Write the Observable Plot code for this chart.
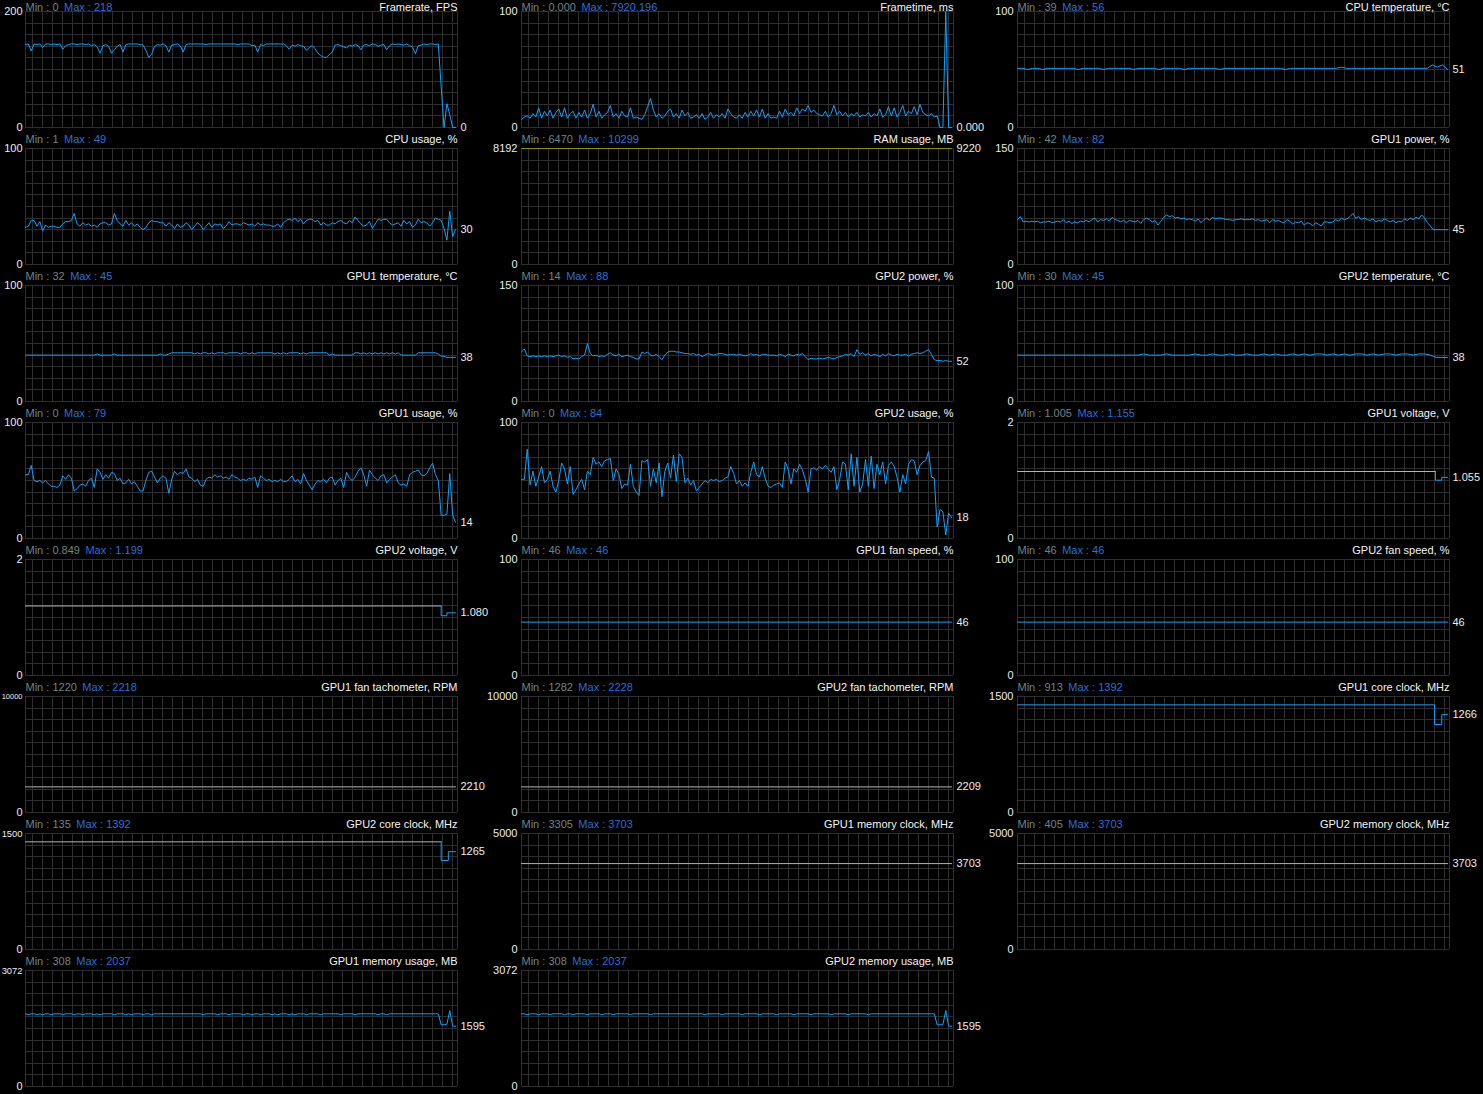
<!DOCTYPE html>
<html><head><meta charset="utf-8">
<script src="https://cdn.jsdelivr.net/npm/d3@7"></script>
<script src="https://cdn.jsdelivr.net/npm/@observablehq/plot@0.6"></script>
<style>
html,body{margin:0;padding:0;background:#000;}
#root{position:relative;width:1483px;height:1094px;overflow:hidden;background:#000;}
.panel{position:absolute;width:496px;height:146px;}
.panel svg{max-width:none !important;}
</style></head><body><div id="root"></div>
<script>
// ---------- DATA (sample index 0..150, equally spaced in time) ----------
const framerate = [143,144,132,144,143,144,138,144,144,143,
 144,143,144,135,141,143,144,144,143,144,
 144,143,144,141,143,139,128,141,143,140,
 128,134,140,143,130,143,144,144,144,144,
 143,142,133,121,126,140,143,142,144,141,
 130,142,143,144,141,130,143,144,144,144,
 144,144,144,143,144,144,144,144,144,144,
 144,144,144,144,143,144,144,144,144,141,
 142,130,143,141,144,144,144,144,144,144,
 144,141,135,142,140,143,141,140,133,138,
 141,136,128,124,121,121,126,130,142,143,
 141,139,137,142,140,143,141,134,142,143,
 141,144,143,140,142,143,134,141,144,143,
 144,143,142,144,141,139,127,141,142,144,
 143,144,144,143,144,71,0,41,22,0,
 0];
const frametime = [7,9,10,8,12,9,17,8,14,10,
 15,8,13,16,9,17,8,12,14,8,
 13,9,15,8,12,20,9,14,8,11,
 13,19,9,12,8,14,10,9,17,8,
 9,8,7,11,18,25,15,9,12,8,
 10,14,16,9,12,8,15,10,13,8,
 9,11,8,12,7,9,13,8,11,9,
 12,8,16,12,9,8,11,8,13,9,
 14,10,15,9,16,8,12,8,9,8,
 14,9,16,11,13,10,17,12,16,14,
 19,13,15,12,11,10,14,9,12,19,
 11,14,10,13,9,12,10,13,9,11,
 10,13,9,12,10,16,9,11,18,10,
 17,9,13,19,10,14,12,18,11,20,
 13,11,10,12,9,10,0,0,100,0,
 0];
const cpuTemperature = [51,51,50,51,51,50,51,51,51,51, 51,51,50,51,51,51,51,50,51,51,
 51,51,51,50,51,51,51,51,50,51, 51,51,51,50,51,51,51,51,51,51,
 50,51,51,51,51,51,51,51,51,51, 51,51,51,50,51,51,51,51,51,51,
 51,51,51,51,52,51,51,51,51,51, 51,51,51,51,51,51,51,51,51,51,
 51,51,54,52,54,50];
const cpuUsage = [32,33,38,38,33,37,29,34,32,33,
 33,32,32,35,37,37,38,44,35,33,
 36,34,35,33,34,32,35,36,36,34,
 35,44,38,35,33,38,34,36,33,35,
 32,30,32,36,38,37,37,36,36,33,
 36,34,31,35,32,33,36,34,30,33,
 36,34,30,33,36,32,35,34,35,31,
 33,37,34,35,35,34,36,35,34,35,
 33,36,34,35,34,34,33,33,35,32,
 36,38,39,38,40,37,39,35,38,39,
 39,37,38,34,36,34,34,36,35,37,
 38,36,35,38,36,41,38,35,33,34,
 37,31,35,39,38,39,39,36,34,35,
 36,33,38,35,37,32,34,39,36,37,
 36,33,36,40,39,38,31,21,46,24,
 30];
const ramUsage = [9220, 9220];
const gpu1Power = [58,62,55,56,55,56,55,56,54,55,
 55,56,54,55,56,55,58,54,56,53,
 55,54,56,55,57,55,58,60,55,58,
 57,59,56,61,58,57,55,57,54,57,
 56,55,57,53,58,60,58,55,57,51,
 56,61,64,62,63,60,61,59,60,58,
 59,58,56,59,54,58,60,57,61,59,
 60,60,59,58,58,57,58,58,59,58,
 58,58,59,57,58,56,57,58,54,58,
 56,57,55,54,58,56,52,55,54,56,
 51,54,53,50,54,52,50,55,55,54,
 55,58,56,60,58,59,62,66,60,62,
 58,60,58,57,59,55,57,56,59,57,
 55,57,54,56,55,59,57,60,58,61,
 59,64,60,54,50,45,45,45,45,45,
 45];
const gpu1Temperature = [40,40,40,40,40,40,40,40,40,40,
 40,40,40,40,40,40,40,40,40,40,
 40,40,40,40,40,41,40,40,40,40,
 40,41,40,40,40,40,40,40,40,40,
 40,40,40,40,40,40,40,41,40,40,
 41,42,42,42,42,42,42,42,42,41,
 42,41,42,42,41,42,41,42,42,42,
 41,42,42,42,42,41,42,42,41,42,
 41,42,42,42,42,42,42,41,42,41,
 42,41,42,42,42,42,41,42,41,42,
 42,42,42,42,42,42,40,41,40,40,
 40,40,40,40,40,42,42,41,42,41,
 42,41,42,41,42,41,42,41,42,41,
 42,40,40,40,40,40,40,42,42,42,
 42,42,42,42,41,39,39,38,38,38,
 38];
const gpu2Power = [64,68,59,58,59,58,59,58,59,58,
 59,58,59,60,58,59,57,58,55,56,
 55,58,60,75,62,59,60,58,59,58,
 61,63,60,59,61,58,59,60,58,57,
 55,55,64,62,64,60,59,61,58,54,
 60,64,65,65,64,64,63,62,62,61,
 62,60,61,58,60,62,61,60,61,62,
 62,61,60,61,61,60,61,60,59,60,
 62,60,61,59,61,61,60,60,60,59,
 61,60,58,61,60,59,61,60,62,58,
 54,56,55,55,56,55,56,57,56,55,
 57,58,59,61,60,62,58,67,61,63,
 60,62,59,61,60,58,61,59,62,60,
 59,61,60,60,61,59,61,62,63,62,
 63,65,67,61,54,53,53,52,53,52,
 52];
const gpu2Temperature = [40,40,40,40,40,40,40,40,40,40, 40,40,40,40,40,40,40,40,40,40,
 40,40,41,40,40,40,41,40,40,40, 40,41,40,40,41,40,40,41,40,40,
 41,40,40,41,40,41,40,40,41,40, 41,40,41,41,40,41,40,41,40,41,
 41,40,41,40,41,41,40,41,41,40, 41,41,40,38,38,38];
const gpu1Usage = [55,55,63,50,49,50,48,50,47,45,
 45,44,46,54,51,55,52,41,43,46,
 47,45,50,52,44,60,57,51,55,52,
 57,56,50,52,47,48,51,47,49,45,
 41,41,50,57,58,53,48,52,54,52,
 39,51,58,55,57,56,60,53,52,49,
 51,46,45,51,53,52,55,53,54,52,
 53,51,55,53,52,50,51,50,52,51,
 53,44,54,52,50,51,49,50,49,51,
 49,49,51,54,49,51,47,56,50,46,
 42,47,50,49,51,48,52,53,46,50,
 52,44,57,52,50,53,58,61,55,45,
 59,55,52,50,54,55,48,51,53,55,
 48,46,47,45,55,57,58,59,55,54,
 56,61,65,55,50,20,20,21,56,20,
 14];
const gpu2Usage = [51,51,77,46,58,45,53,62,48,51,
 58,45,40,50,65,60,47,62,38,42,
 47,51,42,58,55,70,64,66,62,67,
 68,69,50,60,55,43,47,46,64,45,
 40,37,67,66,68,45,60,48,65,36,
 58,65,52,72,49,73,70,48,52,46,
 50,41,44,47,50,48,51,50,51,49,
 50,52,53,62,56,47,50,45,48,45,
 57,66,55,53,62,52,45,44,46,47,
 48,44,66,60,47,60,57,64,59,51,
 40,60,61,59,62,60,63,60,57,62,
 42,51,66,64,42,73,45,70,40,47,
 68,45,71,43,64,55,66,47,63,66,
 62,53,40,55,47,64,68,67,55,63,
 66,67,75,53,52,10,25,23,3,22,
 18];
// step-like series: breakpoints (sample index, value)
const gpu1VoltageT = [0, 145.8, 145.8, 148, 148, 150];
const gpu1VoltageV = [1.155, 1.155, 1.005, 1.005, 1.055, 1.055];
const gpu2VoltageT = [0, 145, 145, 147, 147, 150];
const gpu2VoltageV = [1.199, 1.199, 1.03, 1.03, 1.08, 1.08];
const gpu1FanSpeed = [46, 46];
const gpu2FanSpeed = [46, 46];
const gpu1FanTach = [2210, 2210];
const gpu2FanTach = [2209, 2209];
const gpu1CoreClockT = [0, 145.5, 145.5, 148, 148, 150];
const gpu1CoreClockV = [1392, 1392, 1138, 1138, 1266, 1266];
const gpu2CoreClockT = [0, 145, 145, 147.5, 147.5, 150];
const gpu2CoreClockV = [1392, 1392, 1151, 1151, 1265, 1265];
const gpu1MemClock = [3703, 3703];
const gpu2MemClock = [3703, 3703];
const gpu1MemUsage = [1925,1900,1925,1925,1900,1925,1900,1925,1925,1900,
 1925,1925,1925,1900,1925,1925,1925,1900,1925,1925,
 1900,1925,1925,1925,1900,1925,1900,1925,1925,1925,
 1925,1900,1925,1925,1925,1900,1925,1900,1925,1925,
 1925,1900,1925,1925,1900,1925,1925,1925,1925,1925,
 1925,1925,1925,1925,1925,1925,1925,1925,1925,1925,
 1925,1925,1900,1925,1925,1925,1925,1900,1925,1925,
 1925,1900,1925,1925,1925,1925,1900,1925,1925,1900,
 1925,1925,1900,1925,1925,1925,1900,1925,1900,1925,
 1925,1925,1900,1925,1900,1925,1925,1925,1900,1925,
 1925,1925,1925,1900,1925,1925,1925,1925,1925,1925,
 1900,1925,1925,1925,1925,1900,1925,1925,1925,1925,
 1925,1925,1925,1900,1925,1925,1900,1925,1925,1925,
 1925,1925,1925,1925,1925,1925,1925,1925,1925,1925,
 1925,1925,1925,1925,1925,1634,1634,1650,2013,1600,
 1595];
const gpu2MemUsage = [1925,1925,1900,1925,1925,1925,1900,1925,1925,1925,
 1900,1925,1925,1925,1925,1900,1925,1925,1900,1925,
 1925,1925,1925,1900,1925,1925,1925,1925,1900,1925,
 1925,1925,1900,1925,1925,1925,1925,1925,1900,1925,
 1925,1925,1925,1925,1925,1900,1925,1925,1925,1925,
 1925,1925,1925,1925,1925,1925,1925,1925,1925,1925,
 1925,1925,1925,1925,1900,1925,1925,1925,1925,1925,
 1900,1925,1925,1925,1925,1925,1925,1900,1925,1925,
 1925,1925,1925,1900,1925,1925,1925,1925,1925,1900,
 1925,1925,1925,1925,1925,1900,1925,1925,1925,1925,
 1925,1900,1925,1925,1925,1925,1925,1925,1900,1925,
 1925,1925,1925,1925,1900,1925,1925,1925,1925,1925,
 1925,1900,1925,1925,1925,1925,1925,1925,1925,1925,
 1925,1925,1925,1925,1925,1925,1925,1925,1925,1925,
 1925,1925,1925,1925,1925,1634,1634,1640,2013,1600,
 1595];

// panel texts
const titles = ["Framerate, FPS","Frametime, ms","CPU temperature, °C",
 "CPU usage, %","RAM usage, MB","GPU1 power, %",
 "GPU1 temperature, °C","GPU2 power, %","GPU2 temperature, °C",
 "GPU1 usage, %","GPU2 usage, %","GPU1 voltage, V",
 "GPU2 voltage, V","GPU1 fan speed, %","GPU2 fan speed, %",
 "GPU1 fan tachometer, RPM","GPU2 fan tachometer, RPM","GPU1 core clock, MHz",
 "GPU2 core clock, MHz","GPU1 memory clock, MHz","GPU2 memory clock, MHz",
 "GPU1 memory usage, MB","GPU2 memory usage, MB"];
const minLabels = ["0","0.000","39","1","6470","42","32","14","30","0","0","1.005",
 "0.849","46","46","1220","1282","913","135","3305","405","308","308"];
const maxLabels = ["218","7920.196","56","49","10299","82","45","88","45","79","84","1.155",
 "1.199","46","46","2218","2228","1392","1392","3703","3703","2037","2037"];
const currentLabels = ["0","0.000","51","30","9220","45","38","52","38","14","18","1.055",
 "1.080","46","46","2210","2209","1266","1265","3703","3703","1595","1595"];
const axisMax = [200,100,100, 100,8192,150, 100,150,100, 100,100,2, 2,100,100,
 10000,10000,1500, 1500,5000,5000, 3072,3072];

// ---------- STYLE ----------
const BLUE = "#14a0ff", GRAY = "#b4b4b4", OLIVE = "#8a8a12", GRID = "#2e2e2e";
const MINC = "#6e8484", MAXC = "#2a6fd6", TXT = "#ececec";
const FONT = "'Liberation Sans', Arial, sans-serif";

const fromValues = vals => vals.map((v, i) => ({t: i * 150 / (vals.length - 1), v}));
const fromSteps = (T, V) => T.map((t, i) => ({t, v: V[i]}));

function split(rows, k) { return [[rows.slice(0, k + 1), GRAY], [rows.slice(k), BLUE]]; }
const seriesList = [
  [[fromValues(framerate), BLUE]],
  [[fromValues(frametime), BLUE]],
  [[fromValues(cpuTemperature), BLUE]],
  [[fromValues(cpuUsage), BLUE]],
  [[fromValues(ramUsage), OLIVE]],
  [[fromValues(gpu1Power), BLUE]],
  [[fromValues(gpu1Temperature), BLUE]],
  [[fromValues(gpu2Power), BLUE]],
  [[fromValues(gpu2Temperature), BLUE]],
  [[fromValues(gpu1Usage), BLUE]],
  [[fromValues(gpu2Usage), BLUE]],
  split(fromSteps(gpu1VoltageT, gpu1VoltageV), 1),
  split(fromSteps(gpu2VoltageT, gpu2VoltageV), 1),
  [[fromValues(gpu1FanSpeed), BLUE]],
  [[fromValues(gpu2FanSpeed), BLUE]],
  [[fromValues(gpu1FanTach), GRAY]],
  [[fromValues(gpu2FanTach), GRAY]],
  [[fromSteps(gpu1CoreClockT, gpu1CoreClockV), BLUE]],
  split(fromSteps(gpu2CoreClockT, gpu2CoreClockV), 1),
  [[fromValues(gpu1MemClock), GRAY]],
  [[fromValues(gpu2MemClock), GRAY]],
  [[fromValues(gpu1MemUsage), BLUE]],
  [[fromValues(gpu2MemUsage), BLUE]]
];

const STEP = 430 / 150;          // pixels per sample
const XMAX = 432 / STEP;         // frame width in samples
const vGrid = [0, XMAX, ...d3.range(7, 432, 10).map(p => p / STEP)];

const ctx = document.createElement("canvas").getContext("2d");
const measure = (s, size) => { ctx.font = size + "px " + FONT; return ctx.measureText(s).width; };

const root = document.getElementById("root");
titles.forEach((title, k) => {
  const row = Math.floor(k / 3), col = k % 3;
  const yMax = axisMax[k];
  const clamp = v => Math.max(0, Math.min(yMax, v));
  const hGrid = d3.range(0, 11).map(j => yMax * j / 10);
  const minStr = "Min : " + minLabels[k];
  const maxStr = "Max : " + maxLabels[k];
  const maxDx = measure(minStr, 11) + 5.5;
  // shrink the top tick label in the first column so it stays inside the window
  const topW = measure(String(yMax), 11);
  const pad = col === 0 ? 3 : 4;
  const tickFont = col === 0 && topW > 25 - pad - 1 ? Math.floor(11 * (25 - pad - 1) / topW * 10) / 10 : 11;
  const series = seriesList[k];
  const lastRows = series[series.length - 1][0];
  const last = lastRows[lastRows.length - 1];
  const headDy = row === 0 ? -4.5 : -9;
  const head = {frameAnchor: "top-left", dy: headDy, lineAnchor: "middle", textAnchor: "start", fontSize: 11};
  const marks = [
    Plot.ruleY(hGrid, {stroke: GRID, shapeRendering: "crispEdges"}),
    Plot.ruleX(vGrid, {stroke: GRID, shapeRendering: "crispEdges"}),
    Plot.axisY([0], {tickSize: 0, tickPadding: pad, tickFormat: d => String(d), label: null, fill: TXT, fontSize: 11}),
    Plot.axisY([yMax], {tickSize: 0, tickPadding: pad, tickFormat: d => String(d), label: null, fill: TXT, fontSize: tickFont}),
    ...series.map(([rows, color]) => Plot.line(rows, {x: "t", y: d => clamp(d.v), stroke: color, strokeWidth: 1})),
    Plot.text([last], {x: "t", y: d => clamp(d.v), text: () => currentLabels[k], dx: 5, textAnchor: "start", lineAnchor: "middle", fill: TXT, fontSize: 11}),
    Plot.text([title], {...head, text: d => d, frameAnchor: "top-right", textAnchor: "end", fill: "#f4f4f4"}),
    Plot.text([minStr], {...head, text: d => d, fill: MINC}),
    Plot.text([maxStr], {...head, text: d => d, dx: maxDx, fill: MAXC})
  ];
  const svg = Plot.plot({
    width: 496, height: 146,
    marginLeft: 25, marginRight: 39, marginTop: 20, marginBottom: 10,
    style: {background: "transparent", color: TXT, fontFamily: FONT, fontSize: "11px", overflow: "visible", maxWidth: "none"},
    x: {domain: [0, XMAX], axis: null},
    y: {domain: [0, yMax], axis: null},
    marks
  });
  const div = document.createElement("div");
  div.className = "panel";
  div.style.left = (col * 496) + "px";
  div.style.top = (row * 137 - 9) + "px";
  div.appendChild(svg);
  root.appendChild(div);
});
</script></body></html>
